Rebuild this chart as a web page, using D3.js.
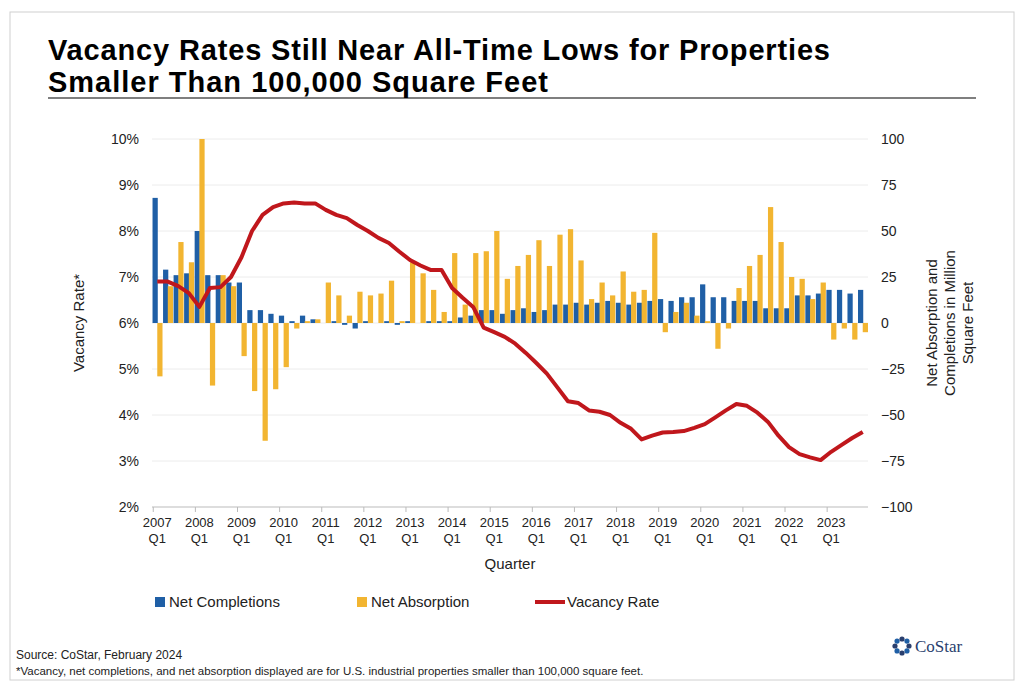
<!DOCTYPE html>
<html><head><meta charset="utf-8">
<script src="https://cdn.jsdelivr.net/npm/d3@7"></script>
<style>body{margin:0;background:#fff;font-family:Arial,"Liberation Sans",sans-serif}</style>
</head><body>
<script>
const years = d3.range(2007, 2024);
const quarters = years.flatMap(y => [1, 2, 3, 4].map(q => y + ' Q' + q));
const completions = [68, 29, 26, 27, 50, 26, 26, 22, 22, 7, 7, 5, 4, 1, 4, 2,
  0, 1, -1, -3, 1, 0, 1, -1, 1, 0, 1, 1, 1, 3, 4, 7,
  7, 5, 7, 8, 6, 7, 10, 10, 11, 10, 11, 12, 11, 10, 11, 12,
  13, 12, 14, 14, 21, 14, 14, 12, 12, 12, 8, 8, 8, 15, 15, 16,
  18, 18, 16, 18];
const absorption = [-29, 20, 44, 33, 100, -34, 26, 20, -18, -37, -64, -36, -24, -3, 1, 2,
  22, 15, 4, 17, 15, 16, 23, 1, 33, 27, 18, 6, 38, 10, 38, 39,
  50, 24, 31, 37, 45, 31, 48, 51, 34, 13, 22, 15, 28, 17, 18, 49,
  -5, 6, 11, 4, 1, -14, -3, 19, 31, 37, 63, 44, 25, 24, 13, 22,
  -9, -3, -9, -5];
const vacancy = [6.9, 6.9, 6.8, 6.65, 6.35, 6.76, 6.78, 7.0, 7.43, 8.0, 8.35, 8.52, 8.6, 8.62, 8.6, 8.6,
  8.46, 8.35, 8.28, 8.13, 8.0, 7.85, 7.74, 7.55, 7.37, 7.25, 7.15, 7.15, 6.76, 6.55, 6.35, 5.9,
  5.8, 5.7, 5.55, 5.35, 5.13, 4.9, 4.6, 4.3, 4.26, 4.1, 4.07, 4.0, 3.83, 3.7, 3.47, 3.55,
  3.62, 3.63, 3.65, 3.72, 3.8, 3.95, 4.1, 4.24, 4.2, 4.05, 3.85, 3.55, 3.3, 3.15, 3.08, 3.02,
  3.2, 3.35, 3.5, 3.63];
const leftTicks = [2, 3, 4, 5, 6, 7, 8, 9, 10];
const rightTicks = [-100, -75, -50, -25, 0, 25, 50, 75, 100];

const W = 1024, H = 689;
const m = {l: 152, r: 868, t: 139, b: 507};
const svg = d3.select('body').append('svg').attr('width', W).attr('height', H);
svg.append('rect').attr('x', 10).attr('y', 12).attr('width', 1004).attr('height', 668)
  .attr('fill', '#fff').attr('stroke', '#d0d0d0');

svg.append('text').attr('x', 48).attr('y', 60).text('Vacancy Rates Still Near All-Time Lows for Properties')
  .style('font-size', '29px').style('font-weight', 'bold').attr('textLength', 782);
svg.append('text').attr('x', 48).attr('y', 92).text('Smaller Than 100,000 Square Feet')
  .style('font-size', '29px').style('font-weight', 'bold').attr('textLength', 500);
svg.append('line').attr('x1', 48).attr('x2', 976).attr('y1', 98).attr('y2', 98).attr('stroke', '#000').attr('stroke-width', 1.2);

const x = d3.scaleBand().domain(quarters).range([m.l, m.r]).paddingInner(0.1).paddingOuter(0.05);
const yL = d3.scaleLinear().domain([2, 10]).range([m.b, m.t]);
const yR = d3.scaleLinear().domain([-100, 100]).range([m.b, m.t]);

svg.append('g').selectAll('line').data(leftTicks.slice(1)).join('line')
  .attr('x1', m.l).attr('x2', m.r).attr('y1', d => yL(d)).attr('y2', d => yL(d))
  .attr('stroke', '#ececec');

const noLine = g => { g.select('.domain').remove(); g.selectAll('line').remove(); g.selectAll('text').attr('fill', '#222').style('font-size', '14px'); };
svg.append('g').attr('transform', `translate(${m.l - 4},0)`)
  .call(d3.axisLeft(yL).tickValues(leftTicks).tickFormat(d => d + '%')).call(noLine);
svg.append('g').attr('transform', `translate(${m.r + 4},0)`)
  .call(d3.axisRight(yR).tickValues(rightTicks)).call(noLine);

const bw = x.bandwidth() / 2;
svg.append('g').selectAll('rect').data(completions).join('rect')
  .attr('x', (d, i) => x(quarters[i])).attr('width', bw + 0.5)
  .attr('y', d => yR(Math.max(0, d))).attr('height', d => Math.abs(yR(d) - yR(0)))
  .attr('fill', '#1f5fa6');
svg.append('g').selectAll('rect').data(absorption).join('rect')
  .attr('x', (d, i) => x(quarters[i]) + bw).attr('width', bw + 0.5)
  .attr('y', d => yR(Math.max(0, d))).attr('height', d => Math.abs(yR(d) - yR(0)))
  .attr('fill', '#f2b531');

svg.append('line').attr('x1', m.l).attr('x2', m.r).attr('y1', m.b).attr('y2', m.b).attr('stroke', '#bbb');

const line = d3.line().x((d, i) => x(quarters[i]) + x.bandwidth() / 2).y(d => yL(d));
svg.append('path').attr('d', line(vacancy)).attr('fill', 'none')
  .attr('stroke', '#c0171c').attr('stroke-width', 4).attr('stroke-linejoin', 'round');

// x labels: every Q1
const xl = svg.append('g');
years.forEach(y => {
  const cx = x(y + ' Q1') + x.bandwidth() / 2;
  xl.append('line').attr('x1', cx - 4).attr('x2', cx - 4).attr('y1', m.b).attr('y2', m.b + 5).attr('stroke', '#bbb');
  xl.append('text').attr('x', cx).attr('y', 527).attr('text-anchor', 'middle').text(y).style('font-size', '13px').attr('fill', '#222');
  xl.append('text').attr('x', cx).attr('y', 543).attr('text-anchor', 'middle').text('Q1').style('font-size', '13px').attr('fill', '#222');
});
svg.append('text').attr('x', (m.l + m.r) / 2).attr('y', 569).attr('text-anchor', 'middle').text('Quarter').style('font-size', '15px').attr('fill', '#222');

svg.append('text').attr('transform', 'translate(84,323) rotate(-90)').attr('text-anchor', 'middle')
  .text('Vacancy Rate*').style('font-size', '15px').attr('fill', '#222');
['Net Absorption and', 'Completions in Million', 'Square Feet'].forEach((t, i) => {
  svg.append('text').attr('transform', `translate(${937 + i * 18},323) rotate(-90)`).attr('text-anchor', 'middle')
    .text(t).style('font-size', '15px').attr('fill', '#222');
});

// legend
const leg = [{n: 'Net Completions', c: '#1f5fa6', x: 155, t: 'b'}, {n: 'Net Absorption', c: '#f2b531', x: 357, t: 'b'}, {n: 'Vacancy Rate', c: '#c0171c', x: 535, t: 'l'}];
leg.forEach(d => {
  if (d.t === 'b') svg.append('rect').attr('x', d.x).attr('y', 597).attr('width', 10).attr('height', 10).attr('fill', d.c);
  else svg.append('line').attr('x1', d.x).attr('x2', d.x + 30).attr('y1', 602).attr('y2', 602).attr('stroke', d.c).attr('stroke-width', 4);
  svg.append('text').attr('x', d.x + (d.t === 'b' ? 14 : 32)).attr('y', 607).text(d.n).style('font-size', '15px').attr('fill', '#222');
});

svg.append('text').attr('x', 16).attr('y', 659).text('Source: CoStar, February 2024').style('font-size', '12px').attr('fill', '#222');
svg.append('text').attr('x', 16).attr('y', 675).text('*Vacancy, net completions, and net absorption displayed are for U.S. industrial properties smaller than 100,000 square feet.').style('font-size', '11.5px').attr('fill', '#222');

// logo
const lg = svg.append('g').attr('transform', 'translate(902,646)');
d3.range(8).forEach(k => {
  const a = k * Math.PI / 4;
  lg.append('circle').attr('cx', 7 * Math.cos(a)).attr('cy', 7 * Math.sin(a)).attr('r', 2.6).attr('fill', k % 2 ? '#1f5fa6' : '#2a3f6e');
});
svg.append('text').attr('x', 915).attr('y', 652).text('CoStar').style('font-family', 'Liberation Serif, serif').style('font-size', '17px').attr('fill', '#2a3f6e');
</script>
</body></html>
